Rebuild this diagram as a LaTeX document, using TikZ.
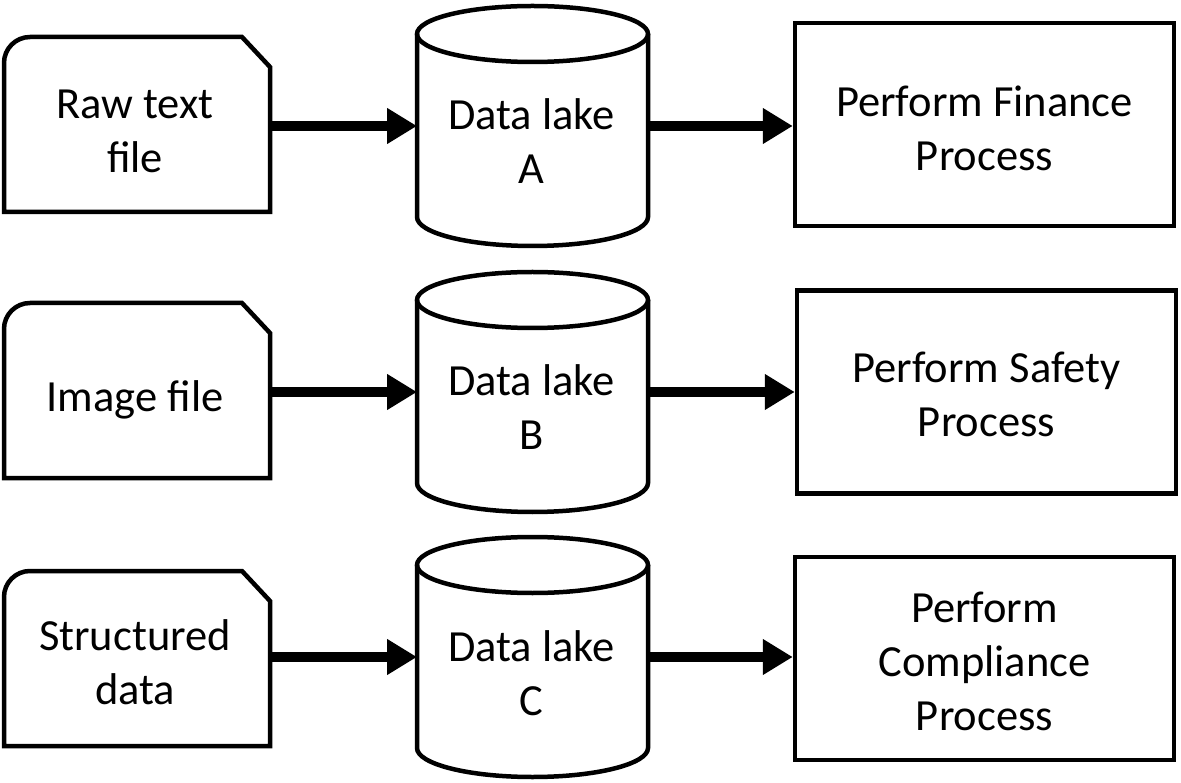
\documentclass[tikz,border=0pt]{standalone}
\usepackage{fontspec}
\setmainfont{Carlito}
\usetikzlibrary{arrows.meta,calc}
\begin{document}
\begin{tikzpicture}[x=1pt,y=1pt,
  outline/.style={draw=black, line width=4.5pt, line join=miter},
  fileshape/.style={minimum width=266pt, minimum height=175pt, inner sep=0pt, outer sep=0pt},
  lakeshape/.style={minimum width=231pt, minimum height=240pt, inner sep=0pt, outer sep=0pt},
  procbox/.style={draw=black, line width=4.5pt, minimum width=379pt, minimum height=203pt, inner sep=0pt},
  lbl/.style={font=\fontsize{44.5}{54}\selectfont, align=center, inner sep=0pt, text depth=0pt},
  flow/.style={line width=10pt, -{Triangle[length=30pt, width=34pt]}}
]
\useasboundingbox (0,0) rectangle (1181,-783);
\fill[white] (0,0) rectangle (1181,-783);

% shapes
\node[fileshape] (fa) at (137,-124.5) {};
\node[fileshape] (fb) at (137,-390.5) {};
\node[fileshape] (fc) at (137,-658.5) {};
\node[lakeshape] (la) at (532.5,-126) {};
\node[lakeshape] (lb) at (532.5,-392) {};
\node[lakeshape] (lc) at (532.5,-657) {};
\node[procbox] (pa) at (984.5,-124.5) {};
\node[procbox] (pb) at (986.5,-392) {};
\node[procbox] (pc) at (984.5,-658.5) {};

\foreach \n in {fa,fb,fc}{
  \draw[outline] (\n.south west) -- ($(\n.north west)+(0,-26)$)
    arc[start angle=180, end angle=90, radius=26]
    -- ($(\n.north east)+(-28,0)$) -- ($(\n.north east)+(0,-30)$)
    -- (\n.south east) -- cycle;
}
\foreach \n in {la,lb,lc}{
  \draw[outline] ($(\n.north west)+(0,-28)$) -- ($(\n.south west)+(0,29)$)
    arc[start angle=180, end angle=360, x radius=115.5, y radius=29]
    -- ($(\n.north east)+(0,-28)$);
  \draw[outline] ($(\n.north)+(0,-28)$) ellipse [x radius=115.5, y radius=28];
}

% labels
\node[lbl] (ta) at ($(fa)+(-2,-7)$) {Raw text\\file};
\node[lbl] (tb) at ($(fb)+(-2,-6)$) {Image file};
\node[lbl] (tc) at ($(fc)+(-2,-4)$) {Structured\\data};
\node[lbl] (da) at ($(la)+(-1,-15.5)$) {Data lake\\A};
\node[lbl] (db) at ($(lb)+(-1,-15.5)$) {Data lake\\B};
\node[lbl] (dc) at ($(lc)+(-1,-16.5)$) {Data lake\\C};
\node[lbl] (qa) at ($(pa)+(0,-4)$) {Perform Finance\\Process};
\node[lbl] (qb) at ($(pb)+(0,-2)$) {Perform Safety\\Process};
\node[lbl] (qc) at ($(pc)+(0,-3)$) {Perform\\Compliance\\Process};

% connectors
\draw[flow] (fa.east |- la.west) -- (la.west);
\draw[flow] (fb.east |- lb.west) -- (lb.west);
\draw[flow] (fc.east |- lc.west) -- (lc.west);
\draw[flow] (la.east) -- (la.east -| pa.west);
\draw[flow] (lb.east) -- (lb.east -| pb.west);
\draw[flow] (lc.east) -- (lc.east -| pc.west);
\end{tikzpicture}
\end{document}
